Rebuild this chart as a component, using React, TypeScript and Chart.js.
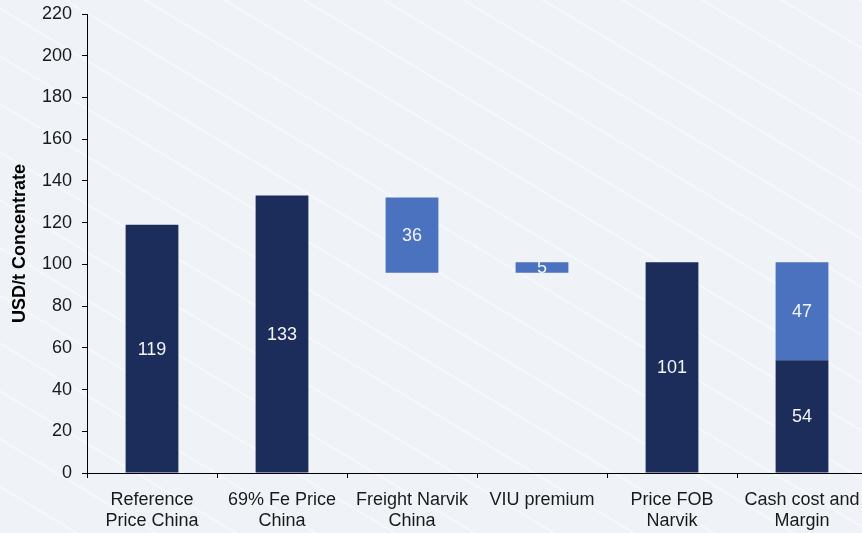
import React, { useEffect, useRef } from "react";
import { Chart, registerables } from "chart.js";

Chart.register(...registerables);

// Categories along the bridge, split into label lines
const categories: string[][] = [
  ["Reference", "Price China"],
  ["69% Fe Price", "China"],
  ["Freight Narvik", "China"],
  ["VIU premium"],
  ["Price FOB", "Narvik"],
  ["Cash cost and", "Margin"],
];

// Full-height (from zero) price bars, USD/t
const priceValues: (number | null)[] = [119, 133, null, null, 101, 54];

// Floating step bars: where each step starts and how large it is, USD/t
const stepStarts: (number | null)[] = [null, null, 96, 96, null, 54];
const stepValues: (number | null)[] = [null, null, 36, 5, null, 47];

// Value axis
const yMin = 0;
const yMax = 220;
const yStep = 20;

const FONT = 'Arial, "Liberation Sans", Helvetica, sans-serif';
const DARK = "#1c2d5c";
const LIGHT = "#4a72bf";
const TEXT = "#1a1a1a";

export default function App() {
  const canvasRef = useRef<HTMLCanvasElement>(null);

  useEffect(() => {
    const canvas = canvasRef.current;
    if (!canvas) return;

    // White value labels centred in each bar
    const valueLabels = {
      id: "valueLabels",
      afterDatasetsDraw(chart: any) {
        const ctx = chart.ctx;
        ctx.save();
        ctx.font = `18px ${FONT}`;
        ctx.fillStyle = "#f2f4f8";
        ctx.textAlign = "center";
        ctx.textBaseline = "middle";
        const sources = [priceValues, stepValues];
        chart.data.datasets.forEach((_: any, di: number) => {
          const meta = chart.getDatasetMeta(di);
          meta.data.forEach((el: any, i: number) => {
            const v = sources[di][i];
            if (v == null) return;
            const { x, y, base } = el.getProps(["x", "y", "base"], true);
            ctx.fillText(String(v), x, (y + base) / 2 + 1);
          });
        });
        ctx.restore();
      },
    };

    const chart = new Chart(canvas, {
      type: "bar",
      data: {
        labels: categories,
        datasets: [
          {
            label: "Price",
            data: priceValues,
            backgroundColor: DARK,
          },
          {
            label: "Step",
            data: stepStarts.map((s, i) =>
              s == null || stepValues[i] == null ? null : [s, s + (stepValues[i] as number)]
            ) as any,
            backgroundColor: LIGHT,
          },
        ],
      },
      options: {
        responsive: false,
        animation: false,
        devicePixelRatio: 1,
        layout: { padding: { top: 14, right: 0, bottom: 0, left: 0 } },
        datasets: {
          bar: {
            grouped: false,
            barPercentage: 1,
            categoryPercentage: 0.406,
            borderWidth: 0,
          },
        },
        plugins: {
          legend: { display: false },
          tooltip: { enabled: false },
        },
        scales: {
          x: {
            grid: {
              offset: true,
              drawOnChartArea: false,
              drawTicks: true,
              tickLength: 5,
              color: "#000",
            },
            border: { display: true, color: "#000", width: 1 },
            ticks: {
              color: TEXT,
              font: { family: FONT, size: 18, lineHeight: 1.2 },
              padding: 11,
              maxRotation: 0,
              autoSkip: false,
            },
            afterFit: (scale: any) => {
              scale.height = 60;
              scale.paddingLeft = 0;
              scale.paddingRight = 0;
            },
          },
          y: {
            min: yMin,
            max: yMax,
            grid: {
              drawOnChartArea: false,
              drawTicks: true,
              tickLength: 5,
              color: "#000",
            },
            border: { display: true, color: "#000", width: 1 },
            ticks: {
              stepSize: yStep,
              color: TEXT,
              font: { family: FONT, size: 18 },
              padding: 10,
            },
            title: {
              display: true,
              text: "USD/t Concentrate",
              color: "#000",
              font: { family: FONT, size: 18, weight: "bold" },
              padding: { top: 9, bottom: 0 },
            },
            afterFit: (scale: any) => {
              scale.width = 87;
              scale.paddingTop = 0;
              scale.paddingBottom = 0;
            },
          },
        },
      },
      plugins: [valueLabels],
    });

    return () => chart.destroy();
  }, []);

  return (
    <div
      style={{
        position: "fixed",
        left: 0,
        top: 0,
        width: 862,
        height: 533,
        overflow: "hidden",
        backgroundColor: "#eff3f7",
        backgroundImage:
          "repeating-linear-gradient(31deg, rgba(255,255,255,0) 0px, rgba(255,255,255,0) 38px, rgba(255,255,255,0.5) 39.5px, rgba(255,255,255,0) 41px)",
      }}
    >
      <canvas ref={canvasRef} width={867} height={533} style={{ display: "block" }} />
    </div>
  );
}
